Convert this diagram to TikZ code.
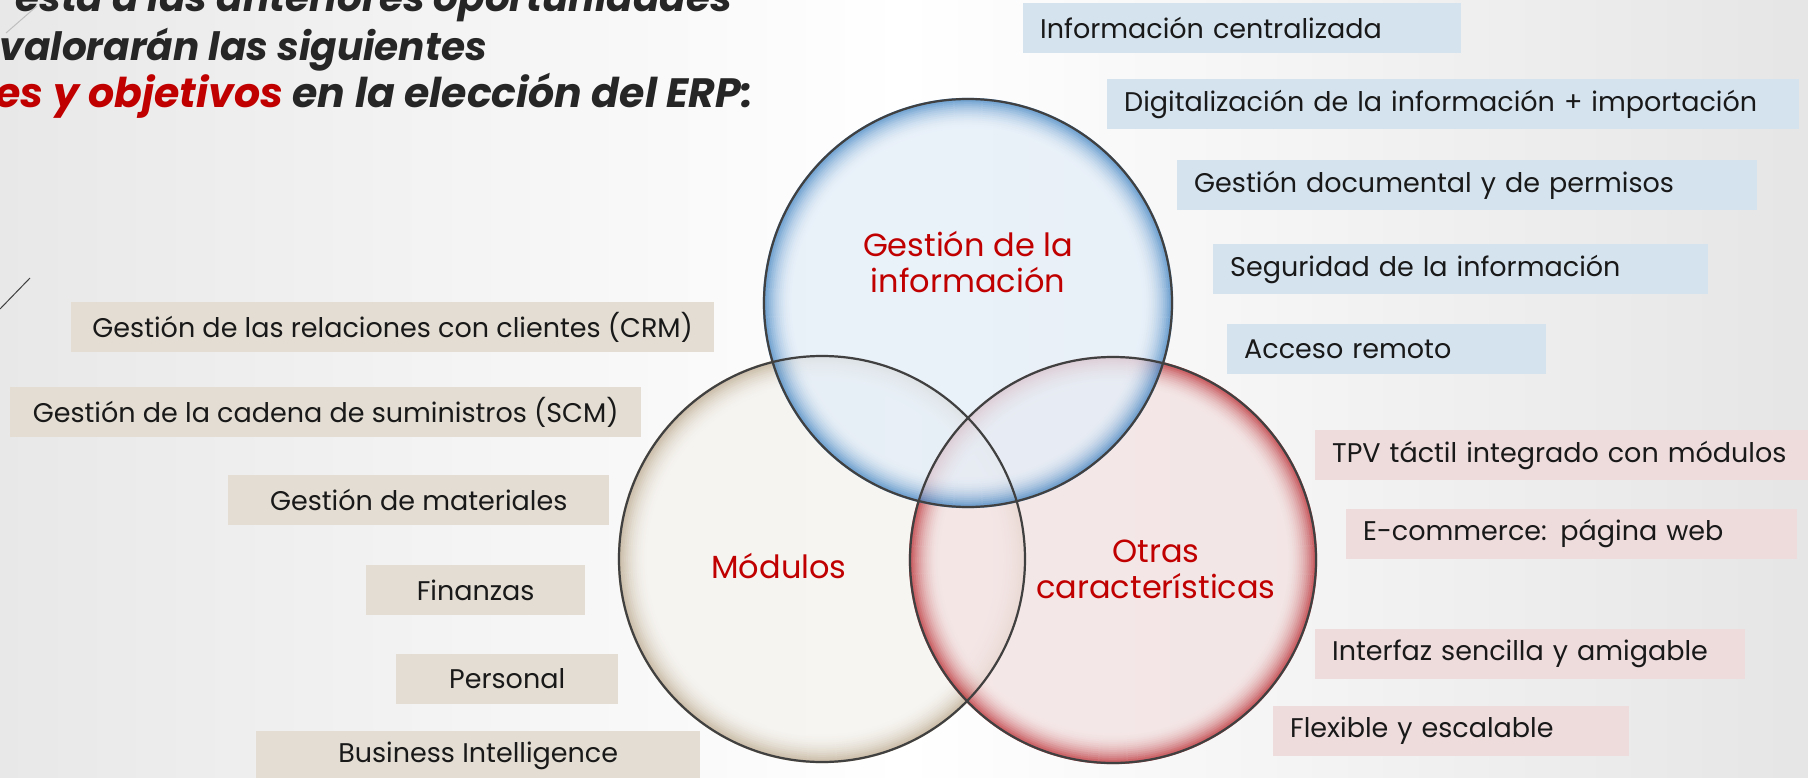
\documentclass[tikz,border=0pt]{standalone}
\usepackage{fontspec}
\setmainfont{Poppins}
\usepackage{xcolor}
\usepackage{tikz}
\usetikzlibrary{positioning}

\definecolor{titlegray}{HTML}{262626}
\definecolor{slidered}{HTML}{C00000}
\definecolor{infoblue}{HTML}{D5E3EF}
\definecolor{otherpink}{HTML}{EEDCDD}
\definecolor{moduletan}{HTML}{E3DDD3}
\definecolor{blueinner}{HTML}{E4EEF8}
\definecolor{blueouter}{HTML}{3F82C2}
\definecolor{taninner}{HTML}{F5F3EF}
\definecolor{tanouter}{HTML}{BBA98C}
\definecolor{redinner}{HTML}{F3E2E2}
\definecolor{redouter}{HTML}{B8262C}

\tikzset{
  itembox/.style={fill=#1, minimum height=50pt, inner xsep=17pt, inner ysep=0pt,
    anchor=west, text=black!90, font=\fontsize{27}{32}\selectfont},
  circlabel/.style={anchor=base, inner sep=0pt, text=slidered, font=\fontsize{32}{36}\selectfont},
  titleline/.style={anchor=base east, inner sep=0pt, text=titlegray,
    font=\fontsize{39}{46}\selectfont\bfseries\itshape},
  ringline/.style={draw=black!75, line width=2.2pt},
}

\begin{document}
\begin{tikzpicture}[x=1pt,y=-1pt]
	\useasboundingbox (0,0) rectangle (1808,778);
	\clip (0,0) rectangle (1808,778);
	\shade[left color=black!9, right color=black!10, middle color=white] (0,0) rectangle (1808,778);
	
	% adornos del tema
	\draw[black!25, line width=1pt] (6,33) -- (37,6);
	\draw[black!75, line width=1pt] (0,309) -- (30,278);
	
	% titulo (cortado)
	\node[titleline] (line1) at (732,12) {esta a las anteriores oportunidades};
	\node[titleline] (line2) at (487,61) {valorarán las siguientes};
	\node[titleline, font=\fontsize{41}{46}\selectfont\bfseries\itshape] (line3) at (753,108)
		{\textcolor{slidered}{es y objetivos} en la elección del ERP:};
	
	% circulos (borde degradado)
	\foreach \cx/\cy/\r/\col in {822/559/203/tan, 1113/560/203/red, 968/303/204/blue} {
		\begin{scope}[transparency group, opacity=0.78]
			\fill[\col inner] (\cx,\cy) circle (\r pt);
			\foreach \k in {14,13,...,0} {
				\pgfmathsetmacro\p{100*(1-\k/15)^2}
				\pgfmathsetmacro\rr{\r-\k*2}
				\draw[\col outer!\p!\col inner, line width=2.4pt] (\cx,\cy) circle (\rr pt);
			}
		\end{scope}
	}
	\draw[ringline] (822,559) circle (203pt);
	\draw[ringline] (1113,560) circle (203pt);
	\draw[ringline] (968,303) circle (204pt);
	
	\node[circlabel] (info1) at (968,257) {Gestión de la};
	\node[circlabel] (info2) at (968,293) {información};
	\node[circlabel] (modulos) at (779,578) {Módulos};
	\node[circlabel] (otras1) at (1156,562) {Otras};
	\node[circlabel] (otras2) at (1156,598) {características};
	
	% gestion de la informacion
	\foreach \n/\x/\y/\w/\t in {ic/1023/28/438/Información centralizada,
		di/1107/104/692/Digitalización de la información + importación,
		gd/1177/185/580/Gestión documental y de permisos,
		si/1213/269/495/Seguridad de la información,
		ar/1227/349/319/Acceso remoto} {
		\pgfmathsetmacro\tw{\w-34}
		\node[itembox=infoblue, text width=\tw pt, align=left] (\n) at (\x,\y) {\t};
	}
	
	% otras caracteristicas
	\foreach \n/\x/\y/\w/\t in {tp/1315/455/500/TPV táctil integrado con módulos,
		ec/1346/534/451/E-commerce: página web,
		is/1315/654/430/Interfaz sencilla y amigable,
		fe/1273/731/356/Flexible y escalable} {
		\pgfmathsetmacro\tw{\w-34}
		\node[itembox=otherpink, text width=\tw pt, align=left] (\n) at (\x,\y) {\t};
	}
	
	% modulos
	\foreach \n/\x/\y/\w/\t in {crm/71/327/643/Gestión de las relaciones con clientes (CRM),
		scm/10/412/631/Gestión de la cadena de suministros (SCM),
		mat/228/500/381/Gestión de materiales,
		fin/366/590/219/Finanzas,
		per/396/679/222/Personal,
		bi/256/756/444/Business Intelligence} {
		\node[itembox=moduletan, minimum width=\w pt] (\n) at (\x,\y) {\t};
	}
	
\end{tikzpicture}
\end{document}
